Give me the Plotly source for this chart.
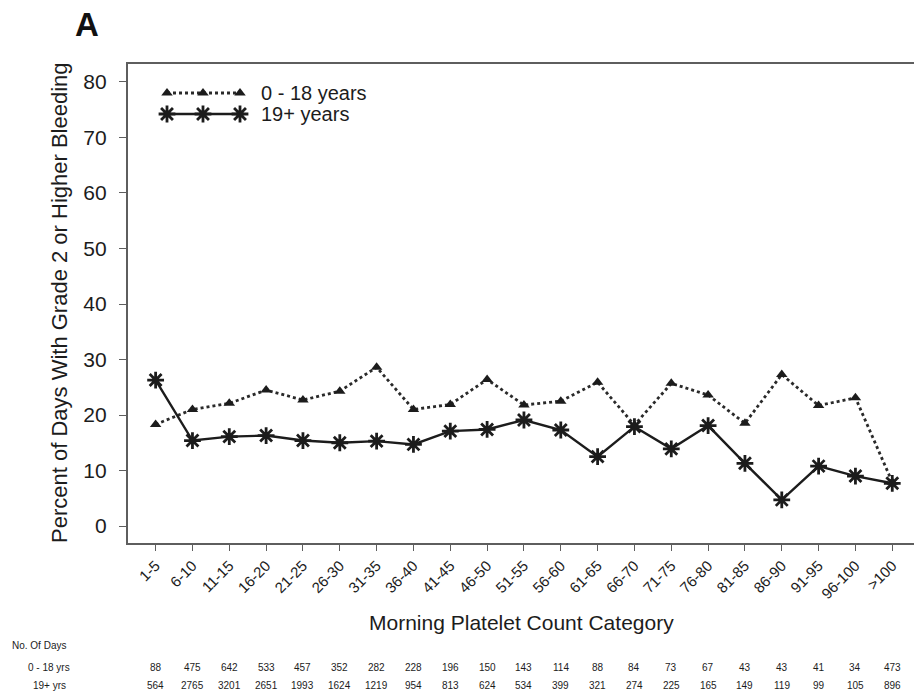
import plotly.graph_objects as go

# Morning platelet count categories (x axis)
categories = ["1-5", "6-10", "11-15", "16-20", "21-25", "26-30", "31-35", "36-40",
              "41-45", "46-50", "51-55", "56-60", "61-65", "66-70", "71-75", "76-80",
              "81-85", "86-90", "91-95", "96-100", ">100"]

# Percent of days with grade 2 or higher bleeding
pct_0_18 = [18.3, 21.0, 22.1, 24.5, 22.7, 24.3, 28.6, 21.0, 21.9, 26.4, 21.8,
            22.5, 25.9, 18.2, 25.7, 23.6, 18.5, 27.3, 21.7, 23.1, 7.9]
pct_19_plus = [26.3, 15.4, 16.1, 16.3, 15.4, 15.0, 15.3, 14.7, 17.1, 17.4, 19.1,
               17.3, 12.5, 17.9, 13.9, 18.1, 11.3, 4.7, 10.8, 9.0, 7.7]

# Number of days observed in each category
days_0_18 = [88, 475, 642, 533, 457, 352, 282, 228, 196, 150, 143, 114, 88, 84,
             73, 67, 43, 43, 41, 34, 473]
days_19_plus = [564, 2765, 3201, 2651, 1993, 1624, 1219, 954, 813, 624, 534, 399,
                321, 274, 225, 165, 149, 119, 99, 105, 896]

series_names = ["0 - 18 years", "19+ years"]
row_labels = ["0 - 18 yrs", "19+ yrs"]
y_ticks = list(range(0, 81, 10))

FONT = "Liberation Sans, Arial, sans-serif"
INK = "#1c1c1c"
AXIS = "#5e5e5e"

W, H = 914, 698
L, R, T, B = 128, 914, 64, 543   # plot area in pixels


def px(x):
    return (x - L) / (R - L)


def py(y):
    return (B - y) / (B - T)


xs = list(range(len(categories)))

tri_marker = dict(symbol="triangle-up", size=10, color=INK)
star_marker = dict(symbol="asterisk-open", size=14, color=INK,
                   line=dict(color=INK, width=2.8))
dot_line = dict(color="#2a2a2a", width=2.8, dash="dot")
solid_line = dict(color=INK, width=2.4)

fig = go.Figure()

fig.add_trace(go.Scatter(
    x=xs, y=pct_0_18, mode="lines+markers", name=series_names[0],
    line=dot_line, marker=tri_marker, showlegend=False,
))
fig.add_trace(go.Scatter(
    x=xs, y=pct_19_plus, mode="lines+markers", name=series_names[1],
    line=solid_line, marker=star_marker, showlegend=False,
))

# Legend key drawn on a pixel-scaled overlay axis
key_x = [167, 203, 240]
key_rows = [93, 114]
fig.add_trace(go.Scatter(
    x=key_x, y=[key_rows[0]] * 3, mode="lines+markers", xaxis="x2", yaxis="y2",
    line=dot_line, marker=tri_marker, showlegend=False, hoverinfo="skip",
))
fig.add_trace(go.Scatter(
    x=key_x, y=[key_rows[1]] * 3, mode="lines+markers", xaxis="x2", yaxis="y2",
    line=solid_line, marker=star_marker, showlegend=False, hoverinfo="skip",
))

annotations = []
for name, yrow in zip(series_names, key_rows):
    annotations.append(dict(
        text=name, xref="paper", yref="paper", x=px(259), y=py(yrow),
        xanchor="left", yanchor="middle", showarrow=False,
        font=dict(family=FONT, size=20, color=INK)))

# Panel letter
annotations.append(dict(
    text="<b>A</b>", xref="paper", yref="paper", x=px(87), y=py(25),
    xanchor="center", yanchor="middle", showarrow=False,
    font=dict(family=FONT, size=33, color="#111")))

# Axis titles
annotations.append(dict(
    text="Percent of Days With Grade 2 or Higher Bleeding", xref="paper", yref="paper",
    x=px(59), y=py(303), xanchor="center", yanchor="middle", textangle=-90,
    showarrow=False, font=dict(family=FONT, size=22, color=INK)))
annotations.append(dict(
    text="Morning Platelet Count Category", xref="paper", yref="paper",
    x=px(521), y=py(622), xanchor="center", yanchor="middle",
    showarrow=False, font=dict(family=FONT, size=21, color=INK)))

# Table of day counts under the axis
annotations.append(dict(
    text="No. Of Days", xref="paper", yref="paper", x=px(10), y=py(645),
    xanchor="left", yanchor="middle", showarrow=False,
    font=dict(family=FONT, size=10, color=INK)))
for label, counts, yrow in zip(row_labels, [days_0_18, days_19_plus], [667, 685]):
    annotations.append(dict(
        text=label, xref="paper", yref="paper", x=px(49), y=py(yrow),
        xanchor="center", yanchor="middle", showarrow=False,
        font=dict(family=FONT, size=10, color=INK)))
    for xi, n in zip(xs, counts):
        annotations.append(dict(
            text=str(n), xref="x", yref="paper", x=xi, y=py(yrow),
            xanchor="center", yanchor="middle", showarrow=False,
            font=dict(family=FONT, size=10, color=INK)))

fig.update_layout(
    width=W, height=H,
    margin=dict(l=L, r=W - R, t=T, b=H - B, pad=0),
    paper_bgcolor="white", plot_bgcolor="white",
    font=dict(family=FONT, color=INK),
    annotations=annotations,
    xaxis=dict(
        range=[-0.75, 20.59], tickmode="array", tickvals=xs, ticktext=categories,
        tickangle=-45, tickfont=dict(family=FONT, size=15, color=INK),
        ticks="outside", ticklen=6, tickwidth=1.2, tickcolor=AXIS,
        showline=True, linecolor=AXIS, linewidth=2.2, mirror=True,
        showgrid=False, zeroline=False, automargin=False,
    ),
    yaxis=dict(
        range=[-3.06, 83.24], tickmode="array", tickvals=y_ticks,
        tickfont=dict(family=FONT, size=21, color=INK),
        ticks="outside", ticklen=7, tickwidth=1.2, tickcolor=AXIS,
        ticklabelstandoff=8,
        showline=True, linecolor=AXIS, linewidth=2.2,
        showgrid=False, zeroline=False, automargin=False,
    ),
    xaxis2=dict(range=[L, R], overlaying="x", visible=False, fixedrange=True),
    yaxis2=dict(range=[B, T], overlaying="y", visible=False, fixedrange=True),
)

fig.write_html("out.html")
